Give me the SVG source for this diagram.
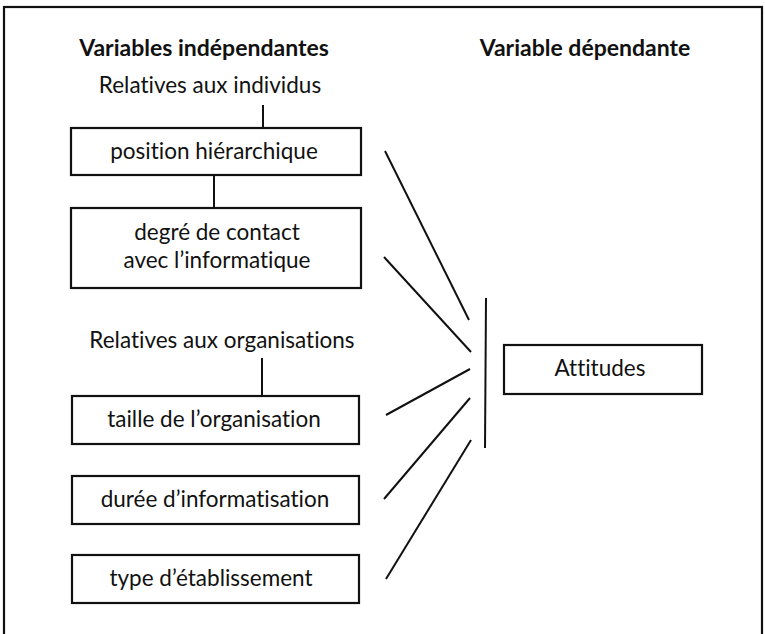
<svg xmlns="http://www.w3.org/2000/svg" width="765" height="634" viewBox="0 0 765 634">
<style>
.box{fill:#fff;stroke:#111;stroke-width:2.2}
.ln{stroke:#111;stroke-width:2;fill:none}
text{font-variant-ligatures:none;font-feature-settings:"liga" 0,"dlig" 0}
.t{font-family:Lato,"Open Sans","Liberation Sans",sans-serif;font-size:22.5px;fill:#111;text-anchor:middle}
.h{font-family:Lato,"Open Sans","Liberation Sans",sans-serif;font-size:23px;font-weight:bold;fill:#111;text-anchor:middle}
</style>
<rect width="765" height="634" fill="#fff"/>
<rect x="4" y="7" width="758" height="640" fill="none" stroke="#111" stroke-width="2.2"/>
<g id="headers">
<text class="h" x="204" y="56">Variables indépendantes</text>
<text class="h" x="585" y="56">Variable dépendante</text>
</g>
<g id="label-individus"><text class="t" x="210" y="93">Relatives aux individus</text></g>
<g id="label-organisations"><text class="t" x="222" y="348">Relatives aux organisations</text></g>
<g id="position"><rect class="box" x="71" y="128" width="290" height="47"/><text class="t" x="214" y="159">position hiérarchique</text></g>
<g id="contact"><rect class="box" x="71" y="208" width="290" height="80"/><text class="t" x="217" y="240">degré de contact</text><text class="t" x="217" y="268">avec l’informatique</text></g>
<g id="taille"><rect class="box" x="72" y="396" width="287" height="48"/><text class="t" x="214" y="427">taille de l’organisation</text></g>
<g id="duree"><rect class="box" x="72" y="476" width="287" height="48"/><text class="t" x="215" y="507">durée d’informatisation</text></g>
<g id="type"><rect class="box" x="72" y="555" width="287" height="48"/><text class="t" x="211" y="586">type d’établissement</text></g>
<g id="attitudes"><rect class="box" x="504" y="345" width="198" height="49"/><text class="t" x="600" y="376">Attitudes</text></g>
<g id="connectors">
<line class="ln" x1="263" y1="105" x2="263" y2="128"/>
<line class="ln" x1="214" y1="175" x2="214" y2="208"/>
<line class="ln" x1="262" y1="358" x2="262" y2="396"/>
<line class="ln" x1="486" y1="298" x2="485" y2="448"/>
<line class="ln" x1="385" y1="151" x2="469" y2="320"/>
<line class="ln" x1="384" y1="257" x2="471" y2="352"/>
<line class="ln" x1="386" y1="415" x2="470" y2="369"/>
<line class="ln" x1="384" y1="499" x2="470" y2="398"/>
<line class="ln" x1="386" y1="579" x2="471" y2="440"/>
</g>
</svg>
